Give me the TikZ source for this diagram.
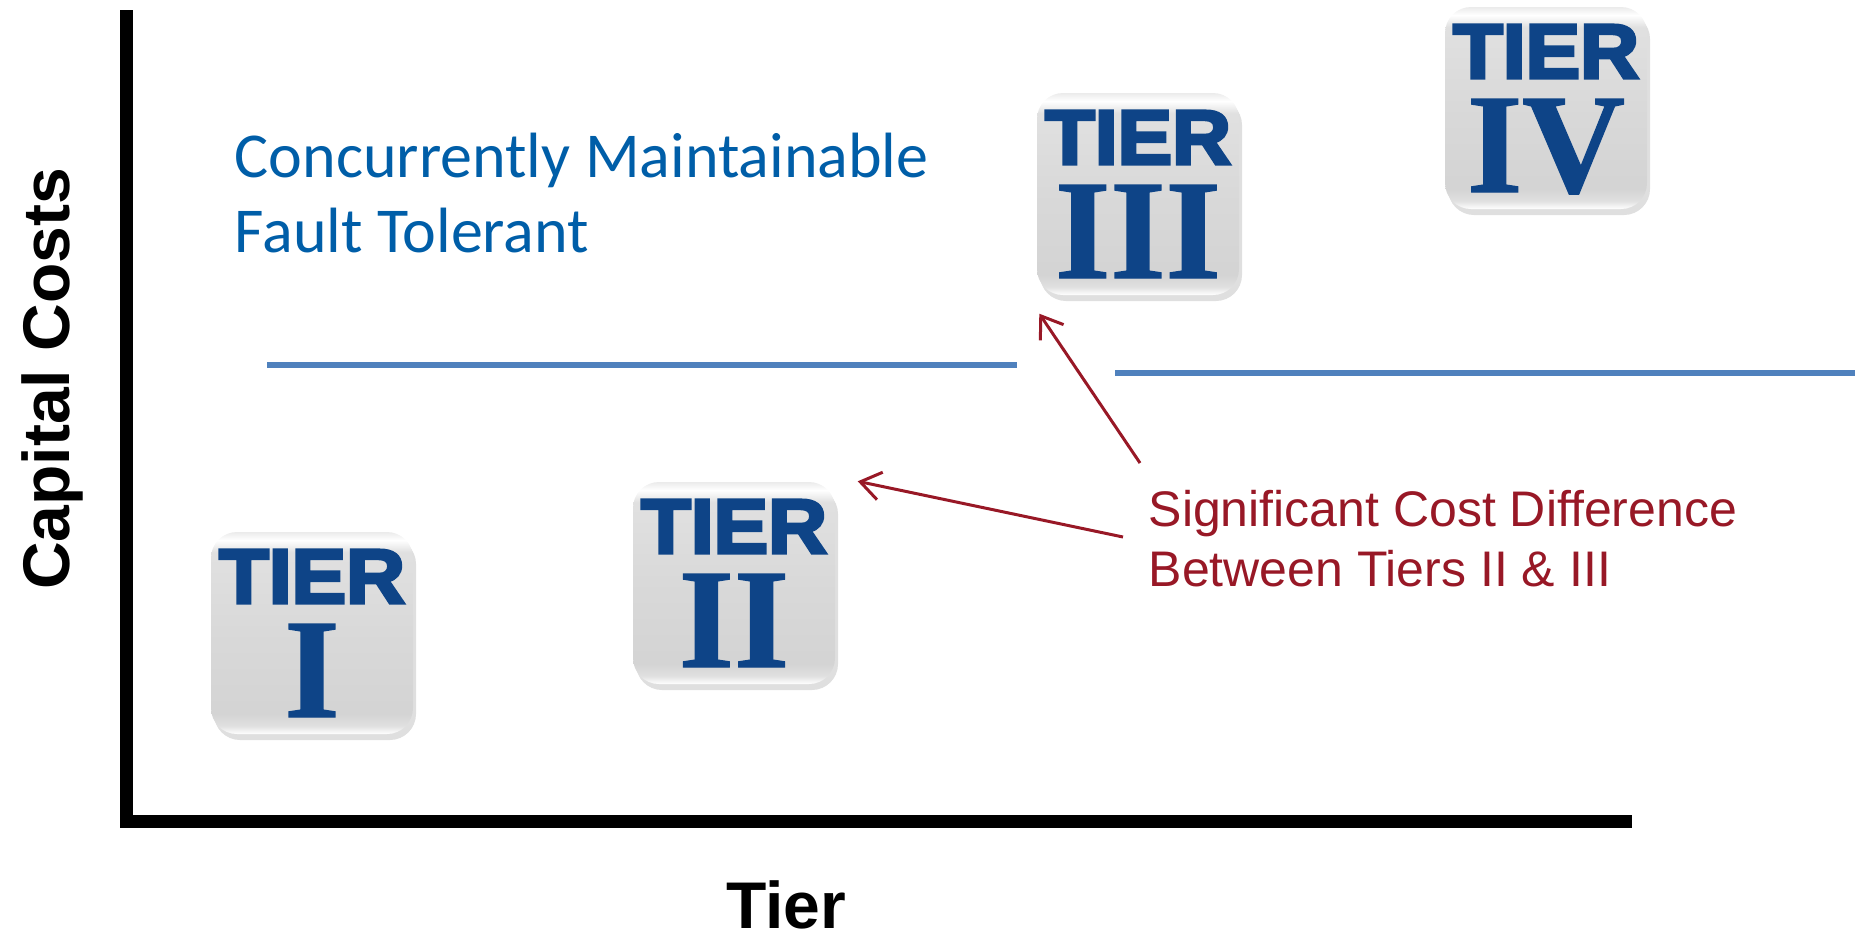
\documentclass[tikz,border=0pt]{standalone}
\usepackage{fontspec}
\usepackage{graphicx}
\setmainfont{Liberation Sans}
\newfontfamily\calfont{Carlito}
\newfontfamily\romfont[FakeBold=1]{Liberation Serif}
\newfontfamily\heavyfont[FakeBold=4]{Liberation Sans}
\usetikzlibrary{positioning, shadows, calc, arrows.meta}
\definecolor{tierblue}{RGB}{14,68,135}
\definecolor{textblue}{RGB}{0,94,168}
\definecolor{lineblue}{RGB}{79,129,189}
\definecolor{notered}{RGB}{152,24,38}
\pgfdeclareverticalshading{tiergloss}{100bp}{color(0bp)=(white); color(25bp)=(white); color(27bp)=(black!12); color(30bp)=(black!17); color(50bp)=(black!15); color(70bp)=(black!12); color(73bp)=(white); color(75bp)=(black!8); color(100bp)=(black!8)}

\begin{document}
\begin{tikzpicture}[x = 0.1mm, y = -0.1mm,
	tierbox/.style = {rounded corners = 2.6mm, minimum width = 20.2mm, minimum height = 20.2mm, shading = tiergloss, drop shadow = {opacity = 0.25, shadow xshift = 0.3mm, shadow yshift = -0.6mm}},
	tierword/.style = {inner sep = 0pt, text = tierblue, font = \heavyfont\bfseries},
	tiernum/.style = {inner sep = 0pt, text = tierblue, font = \romfont\bfseries},
	level/.style = {line width = 0.6mm, draw = lineblue},
	note/.style = {-{Straight Barb[length = 2mm, width = 2.8mm]}, draw = notered, line width = 0.3mm},
	bluetext/.style = {inner sep = 0pt, anchor = base west, text = textblue, font = \calfont\fontsize{6.4mm}{7mm}\selectfont},
	redtext/.style = {inner sep = 0pt, anchor = base west, text = notered, font = \fontsize{5mm}{6mm}\selectfont},
	axislabel/.style = {inner sep = 0pt, anchor = base, font = \bfseries\fontsize{6.6mm}{7mm}\selectfont}
]
	\useasboundingbox (0,0) rectangle (1855,934);
	% axes
	\coordinate (ytop) at (126.5,10);
	\coordinate (origin) at (126.5,821.5);
	\coordinate (xend) at (1632,821.5);
	\draw[line width = 1.3mm] (ytop) -- (origin) -- (xend);
	\node[axislabel, rotate = 90] (cost) at (69,379) {Capital Costs};
	\node[axislabel] (tier) at (786,928) {Tier};

	% tier icons
	\node[tierbox] (T1) at (312,633) {};
	\node[tierword, below = 1.8mm of T1.north] (T1w) {\resizebox{18.6mm}{5.3mm}{TIER}};
	\node[tiernum, below = 9.2mm of T1.north] (T1n) {\resizebox{!}{9.3mm}{I}};
	\node[tierbox] (T2) at (734,583) {};
	\node[tierword, below = 1.8mm of T2.north] (T2w) {\resizebox{18.6mm}{5.3mm}{TIER}};
	\node[tiernum, below = 9.2mm of T2.north] (T2n) {\resizebox{!}{9.3mm}{II}};
	\node[tierbox] (T3) at (1138,194) {};
	\node[tierword, below = 1.8mm of T3.north] (T3w) {\resizebox{18.6mm}{5.3mm}{TIER}};
	\node[tiernum, below = 9.2mm of T3.north] (T3n) {\resizebox{!}{9.3mm}{III}};
	\node[tierbox] (T4) at (1546,108) {};
	\node[tierword, below = 1.8mm of T4.north] (T4w) {\resizebox{18.6mm}{5.3mm}{TIER}};
	\node[tiernum, below = 9.2mm of T4.north] (T4n) {\resizebox{!}{9.3mm}{IV}};

	% levels
	\node[bluetext] (cm) at (234,177) {Concurrently Maintainable};
	\node[bluetext] (ft) at ($(cm.base west) + (0,75)$) {Fault Tolerant};
	\coordinate (l1a) at (267,365);
	\coordinate (l1b) at (1017,365);
	\coordinate (l2a) at (1115,373);
	\coordinate (l2b) at (1855,373);
	\draw[level] (l1a) -- (l1b);
	\draw[level] (l2a) -- (l2b);

	% cost note
	\node[redtext] (sig) at (1148,526) {Significant Cost Difference};
	\node[redtext] (btw) at ($(sig.base west) + (0,60)$) {Between Tiers II \& III};
	\coordinate (s3) at ($(sig.base west) + (-8,-63)$);
	\coordinate (s2) at ($(sig.base west) + (-25,11)$);
	\coordinate (h3) at ($(T3.south west) + (3,18)$);
	\coordinate (h2) at ($(T2.north east) + (22,0)$);
	\draw[note] (s3) -- (h3);
	\draw[note] (s2) -- (h2);
\end{tikzpicture}
\end{document}
